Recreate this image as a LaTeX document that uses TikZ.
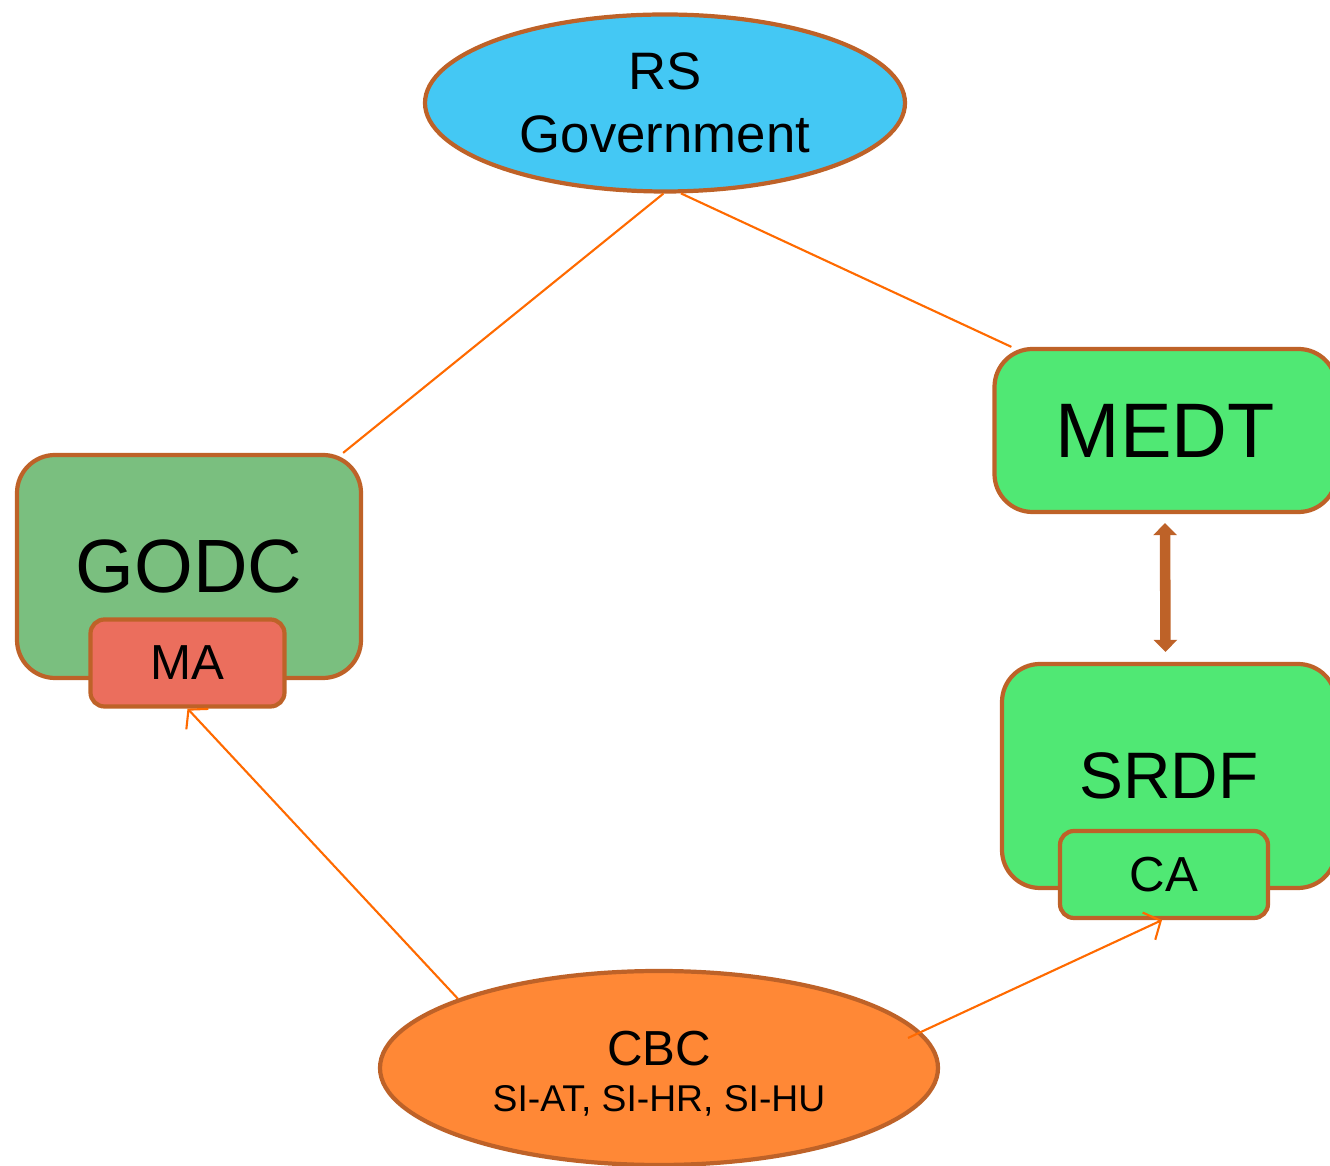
\documentclass[tikz,border=0pt]{standalone}
\usepackage{fontspec}
\setmainfont{Liberation Sans}
\usetikzlibrary{shapes.geometric}
\usetikzlibrary{arrows.meta}
\definecolor{rim}{RGB}{190,98,40}
\definecolor{govblue}{RGB}{68,200,244}
\definecolor{lightgreen}{RGB}{80,232,116}
\definecolor{dullgreen}{RGB}{122,191,127}
\definecolor{mared}{RGB}{235,110,93}
\definecolor{cbcorange}{RGB}{255,136,54}
\definecolor{linkorange}{RGB}{255,106,0}
\tikzset{
	oval/.style={ellipse, draw=rim, line width=1.2pt, inner sep=0pt, align=center},
	bigbox/.style={rectangle, rounded corners=0.38cm, draw=rim, line width=1.2pt, inner sep=0pt},
	smallbox/.style={rectangle, rounded corners=0.14cm, draw=rim, line width=1.2pt, inner sep=0pt, minimum width=1.94cm, minimum height=0.87cm, font=\fontsize{14}{16}\selectfont},
	link/.style={draw=linkorange, line width=0.6pt},
	linkarrow/.style={link, -{Straight Barb[length=0.13cm, width=0.3cm]}}
}

\begin{document}
\begin{tikzpicture}
	\useasboundingbox (0,0) rectangle (13.3,11.66);
	\clip (0,0) rectangle (13.3,11.66);
	\node[oval, fill=govblue, minimum width=4.8cm, minimum height=1.77cm, font=\fontsize{15}{18}\selectfont] (rs) at (6.65, 10.63) {RS\\Government};
	\node[bigbox, fill=lightgreen, minimum width=3.42cm, minimum height=1.63cm, font=\fontsize{22}{24}\selectfont] (medt) at (11.655, 7.355) {MEDT};
	\node[bigbox, fill=dullgreen, minimum width=3.44cm, minimum height=2.23cm, font=\fontsize{21.5}{24}\selectfont] (godc) at (1.89, 5.995) {GODC};
	\node[smallbox, fill=mared] (ma) at (1.875, 5.03) {MA};
	\node[bigbox, fill=lightgreen, minimum width=3.34cm, minimum height=2.24cm, font=\fontsize{18.7}{22}\selectfont] (srdf) at (11.69, 3.90) {SRDF};
	\node[smallbox, fill=lightgreen, minimum width=2.08cm] (ca) at (11.64, 2.915) {CA};
	\node[oval, fill=cbcorange, minimum width=5.58cm, minimum height=1.94cm, font=\fontsize{14}{16}\selectfont] (cbc) at (6.59, 0.98) {\rule{0pt}{13.2pt}CBC\\[-3pt]{\fontsize{10.6}{12}\selectfont SI-AT, SI-HR, SI-HU}};
	\coordinate (cbcright) at (9.08, 1.28);
	\draw[link] (rs.-91) -- ([xshift=-0.2cm]godc.north east);
	\draw[link] (rs.-80) -- ([xshift=0.19cm]medt.north west);
	\draw[linkarrow] (cbc.161) -- (ma.south);
	\draw[linkarrow] (cbcright) -- ([xshift=-0.02cm]ca.south);
	\draw[rim, line width=3pt, {Triangle[length=0.12cm, width=0.23cm]}-{Triangle[length=0.12cm, width=0.23cm]}] ([xshift=-0.005cm, yshift=-0.09cm]medt.south) -- ([yshift=0.1cm]medt.south |- srdf.north);
\end{tikzpicture}
\end{document}
